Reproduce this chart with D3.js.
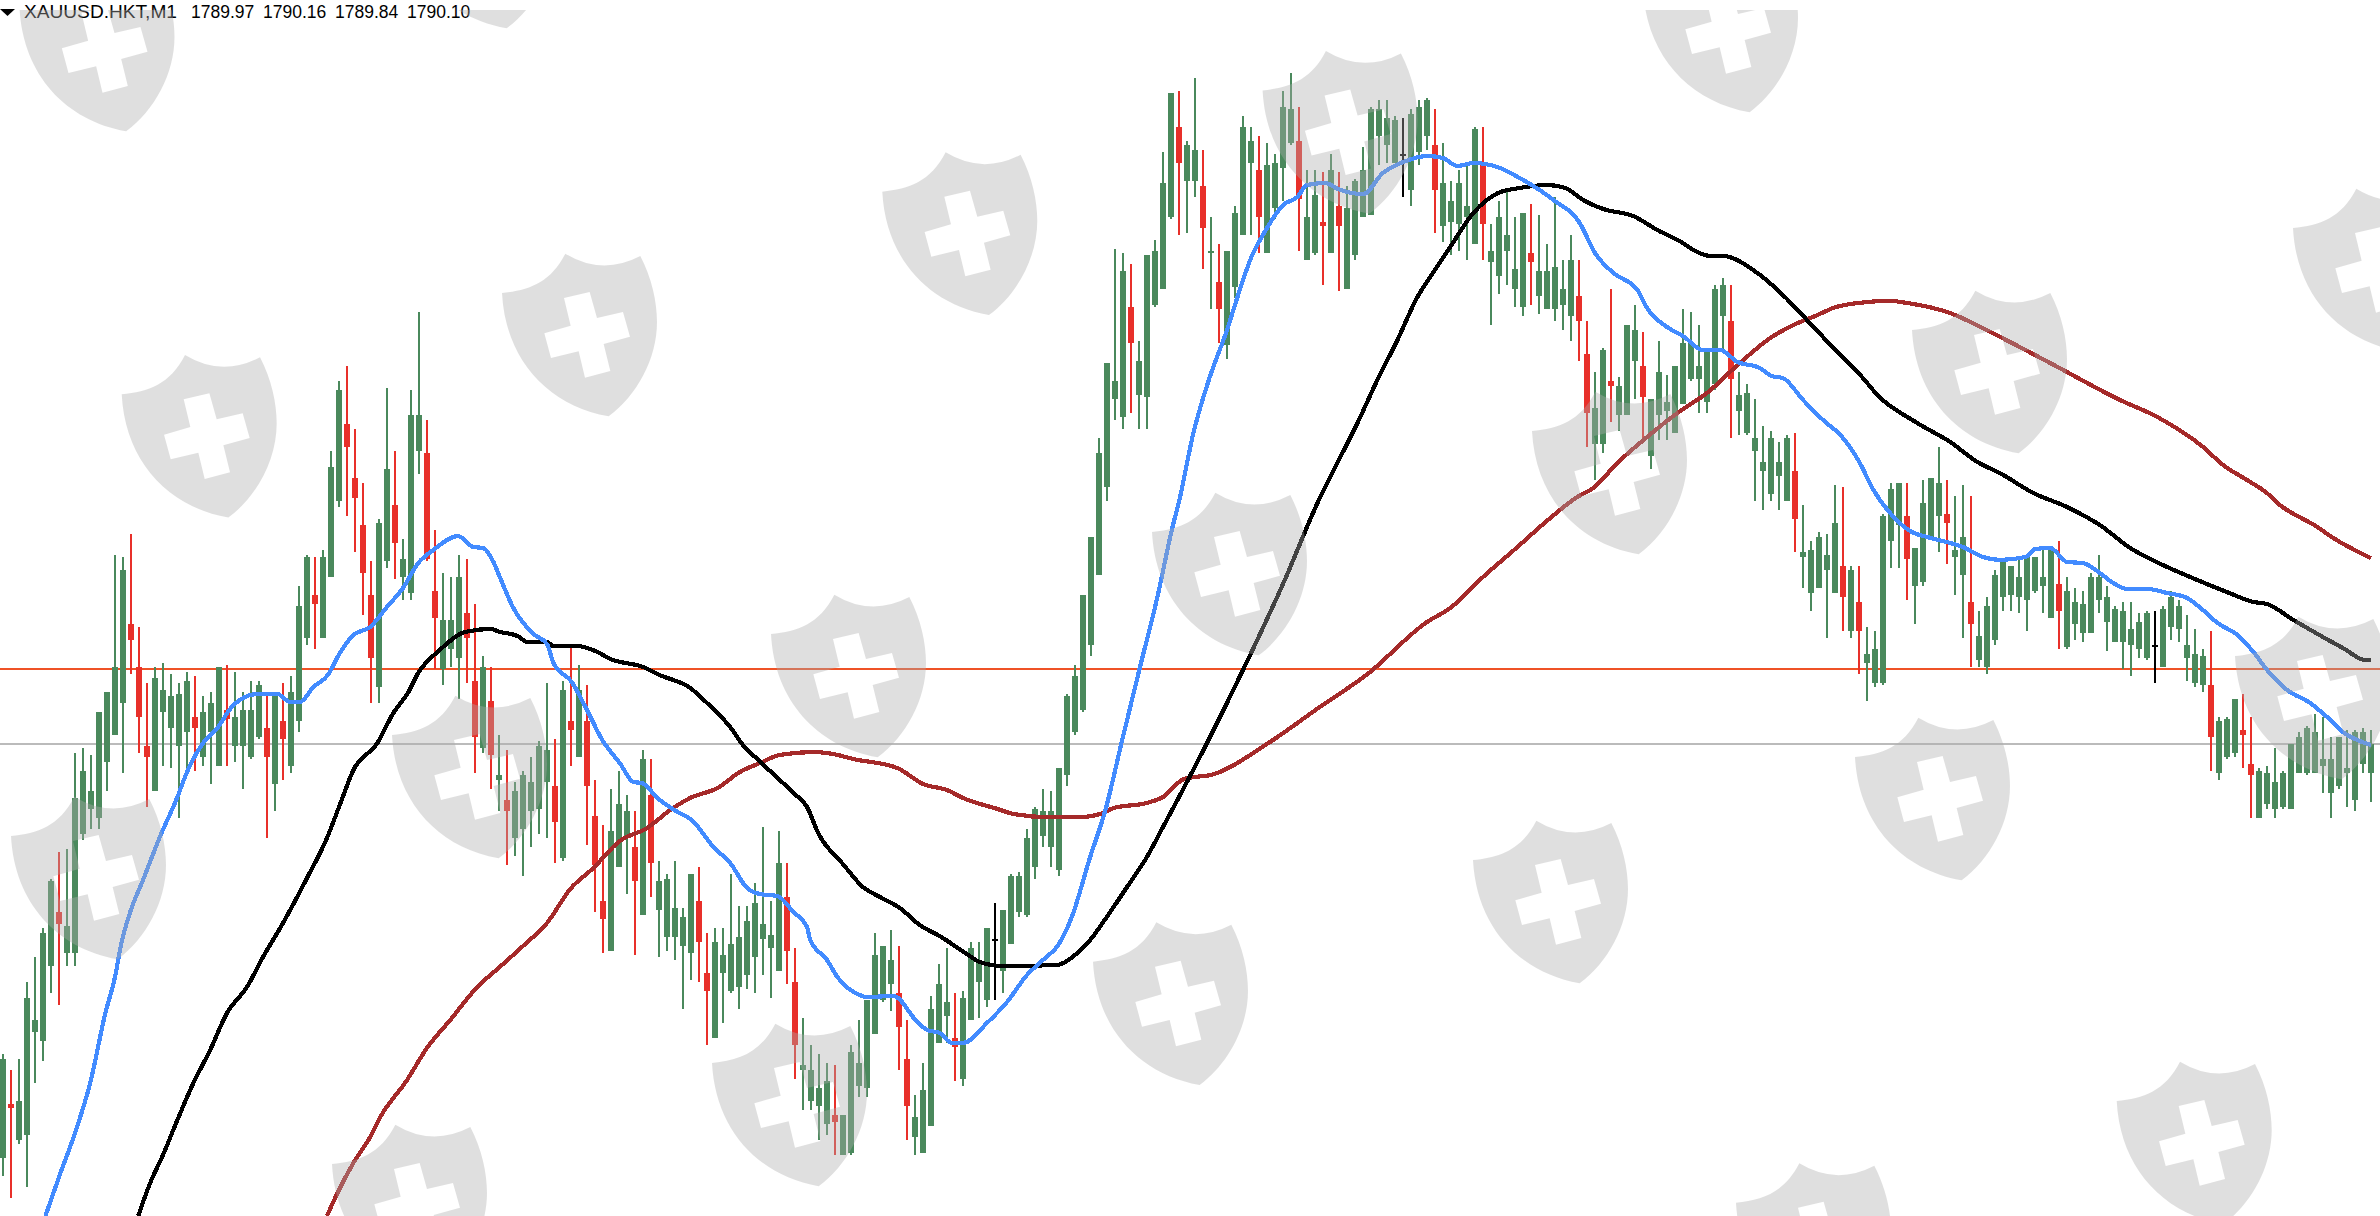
<!DOCTYPE html>
<html>
<head>
<meta charset="utf-8">
<title>XAUUSD.HKT,M1</title>
<script src="https://cdn.jsdelivr.net/npm/d3@7"></script>
<style>
    html, body { margin: 0; padding: 0; background: #fff; overflow: hidden; }
    svg { display: block; }
    .header { font-family: "Liberation Sans", sans-serif; font-size: 17.5px; fill: #000; }
</style>
</head>
<body>
<div id="chart"></div>
<script>
//All prices are in cents above this level
const basePrice = 1788;

const symbolLabel = "XAUUSD.HKT,M1";
const ohlcLabels = ["1789.97", "1790.16", "1789.84", "1790.10"];

const opens = [
    26,50,34,36,82,78,111,135,117,117, 170,181,177,202,214,228,263,244,209,189,
    224,217,209,215,222,204,215,200,225,209, 209,204,213,217,192,220,200,220,257,276,
    257,284,318,352,328,307,276,235,291,316, 284,277,340,339,278,243,252,248,268,238,
    208,229,194,185,168,172,180,181,193,191, 159,220,204,220,178,140,118,155,168,164,
    134,187,136,124,124,120,117,140,108,79, 108,100,102,107,115,123,119,109,142,104,
    65,51,49,41,45,27,28,58,57,81, 96,103,99,70,35,28,40,77,89,79,
    61,87,104,96,123,109,121,135,134,155, 169,164,154,196,215,225,254,285,324,363,
    355,404,365,364,405,412,444,484,460,460, 458,428,415,387,413,436,468,465,428,448,
    466,477,478,425,428,442,428,449,412,427, 444,445,480,476,468,472,456,473,480,476,
    440,442,441,444,432,467,424,418,429,412, 404,428,409,403,403,405,400,409,383,343,
    343,371,356,356,380,378,338,356,358,348, 361,372,372,362,370,400,398,358,348,340,
    331,321,329,318,331,293,277,279,287,277, 289,260,273,246,237,237,300,307,311,280,
    282,302,311,312,293,285,273,247,244,256, 275,276,275,274,278,280,266,281,253,263,
    259,259,274,264,255,255,254,252,248,254, 244,262,261,248,237,236,236,197,204,206,
    216,201,177,183,181,182,181,197,197,197, 200,188,191,197,185,201,197
];
const closes = [
    70,48,51,97,87,126,149,130,129,186, 198,189,224,233,244,287,256,222,204,239,
    234,231,232,238,217,224,228,244,221,222, 225,225,236,204,233,212,233,271,293,272,
    293,333,367,342,319,286,248,308,332,299, 292,356,356,292,266,265,265,284,257,213,
    244,205,196,180,189,196,193,209,207,175, 234,216,234,191,156,132,171,183,180,149,
    203,157,149,150,137,133,152,122,100,122, 116,121,124,131,139,130,125,157,118,76,
    67,65,57,60,42,45,73,68,96,116, 120,114,84,49,44,56,92,103,95,75,
    97,119,113,128,123,136,151,151,168,181, 180,180,199,231,240,276,302,339,379,371,
    420,388,380,427,429,459,499,468,476,474, 439,429,403,429,446,484,478,444,467,468,
    493,492,452,444,454,440,465,440,448,460, 465,492,492,488,487,472,490,493,496,456,
    459,451,459,449,483,441,429,444,436,421, 446,424,420,420,422,412,425,398,357,359,
    385,369,369,396,394,364,363,375,362,378, 388,388,378,384,412,414,372,365,366,346,
    335,346,335,346,310,295,296,302,294,308, 275,287,260,250,252,311,323,326,292,297,
    317,328,326,308,296,302,263,258,271,285, 292,289,284,293,293,284,296,269,278,273,
    272,284,284,275,270,269,261,264,268,254, 270,275,271,254,250,249,213,220,221,230,
    214,196,198,197,193,197,210,213,217,215, 203,203,213,199,215,215,210
];
const highs = [
    72,65,70,104,115,128,150,162,163,206, 208,205,224,233,294,293,303,262,237,244,
    246,241,237,242,240,231,233,244,245,242, 233,238,238,231,233,237,240,280,294,293,
    296,340,371,378,350,326,291,310,368,340, 301,367,402,354,305,286,284,294,292,272,
    249,244,214,207,193,198,204,211,237,212, 238,253,245,236,194,174,190,198,187,180,
    207,203,158,152,158,137,152,155,126,128, 128,152,138,138,148,173,140,171,157,119,
    88,76,72,68,67,45,76,87,96,126, 120,127,120,87,54,68,98,112,119,99,
    100,122,122,128,139,136,152,153,172,182, 190,189,199,232,245,276,302,346,379,430,
    428,423,389,427,434,473,499,500,478,506, 474,444,432,429,449,489,484,480,477,472,
    500,508,493,465,465,464,472,464,458,461, 475,493,496,496,489,488,492,496,497,492,
    477,460,465,467,484,484,441,451,456,444, 446,450,445,432,453,425,436,425,398,375,
    386,412,373,396,405,393,363,389,374,378, 403,402,396,384,414,417,414,375,370,363,
    351,349,344,347,348,316,300,304,303,325, 324,289,289,262,260,312,326,326,326,297,
    327,328,342,327,320,325,320,269,275,287, 292,289,292,293,293,297,297,300,284,279,
    278,286,294,280,271,273,273,268,269,269, 271,278,274,267,261,252,260,222,222,230,
    232,222,199,200,208,198,210,215,218,223, 222,213,213,216,216,217,216
];
const lows = [
    18,8,32,13,59,69,99,94,111,111, 167,172,172,189,214,197,241,206,182,189,
    200,199,177,196,198,200,192,200,200,202, 190,203,212,168,180,194,197,215,254,252,
    257,284,315,311,295,267,228,228,288,283, 274,274,330,291,243,236,244,230,237,197,
    206,190,180,156,160,151,164,170,168,157, 158,200,204,165,135,117,118,155,143,116,
    134,142,115,118,114,92,105,104,76,79, 86,99,92,101,99,107,97,109,103,61,
    47,47,34,36,27,27,27,53,53,81, 95,91,65,34,27,28,40,77,77,60,
    58,87,88,93,96,99,121,133,133,150, 164,155,151,191,214,224,249,285,318,354,
    350,357,350,350,404,412,443,436,437,453, 421,403,388,381,408,436,436,428,428,443,
    451,476,429,425,427,414,428,411,412,425, 444,445,467,468,468,453,449,467,474,437,
    433,427,429,425,432,425,396,410,414,404, 400,405,401,403,398,394,389,380,342,327,
    339,353,349,356,363,344,332,345,345,348, 361,371,357,357,367,384,346,347,347,318,
    314,318,314,318,295,279,269,279,257,277, 260,257,241,229,235,236,288,288,274,263,
    280,302,295,290,276,257,244,244,241,254, 269,269,268,260,277,268,266,252,252,256,
    255,259,268,251,255,243,240,248,247,237, 244,256,255,238,235,233,198,194,203,204,
    199,177,177,181,177,181,181,197,196,197, 188,177,190,182,180,197,184
];

//Moving averages at these bar positions
const blueBars = [5.3,7,9,10.9,12.8,14,14.8,15.9,17.5,19.6,21.8,23,25,26.8,28.8,31.8,34.3,35.9,37.1,38.8,40.6,42.1,43.8,45.9,48,50,51.9,53.8,56.9,58.8,60,61.3,62.1,63.8,66.3,68,68.8,71.1,73,74.9,77.1,78.8,79.9,81.8,84.3,86.1,88.8,90.9,93,94.6,96.8,98.8,100.5,100.9,103,104.3,107.1,108,111.3,114.3,115.5,117.1,118.6,120,123,125.5,128,130,131.9,133.6,135.9,137.8,139.9,142.1,144.3,146.1,147.1,148.8,150.6,153,154.6,155.9,158,160,161.8,163,165.3,166.9,170,172.5,175,178.1,180,181.8,183.8,186.8,189.6,193.8,197.1,199,201.3,204.3,205.5,208,210,212.5,214.6,216.8,219.6,221.1,222.5,225,227.5,229.9,232.1,233.8,235.9,238.6,240.5,243.4,245,247.5,249.6,252.8,254,255.9,258,260,262.1,263.8,265.5,268,270.5,273,275,276.8,279.3,281.3,283,285.5,288.4,290.5,292.5,296];
const blueValues = [0,17.3,36.9,59.1,90.2,106.2,121.3,135.1,149.3,168.4,186.2,197.3,210.2,216.9,227.1,232,232,228.4,228.4,235.1,240.4,250.2,258.2,261.8,270.7,279.1,290.2,296,302.2,297.3,296.9,290.7,284,270.2,258.7,254.2,245.8,237.3,224.9,211.6,201.3,192.9,192.4,185.8,179.6,176,164,156.9,145.8,143.1,142.2,135.1,128.4,122.7,113.8,106.2,98.2,97.3,97.8,86.2,82.7,81.3,76.9,76.9,85.8,95.1,107.1,113.8,120.4,132.9,159.6,180.4,211.6,243.6,275.1,304.9,319.1,348,370.2,393.8,411.6,424.9,439.1,449.3,452.9,458.2,459.1,456.4,454.2,463.6,468.4,471.1,470.2,466.7,468,466.2,461.3,451.6,441.3,428,419.1,411.6,403.6,395.1,391.1,384.9,384.9,379.6,376.9,373.3,372.4,362.7,353.8,346.2,334.7,322.7,312.4,304,301.8,299.1,297.3,292.9,291.6,292.9,296.4,296.9,290.7,290.2,285.8,281.3,278.7,278.7,276.9,274.7,269.3,263.6,258.2,250.7,242.7,233.8,228,221.8,215.1,209.3];

const blackBars = [16.9,18.4,20,21.8,23.8,25.9,28,30.5,32.5,35,38,40.5,42.1,43.8,46.8,48.8,50.6,51.9,54.6,57.8,60.9,62.1,64.3,65.6,68,68.8,71.8,74.3,75.9,80,82.1,85.9,88,90.9,92.5,94.4,98.8,100.5,101.9,105,107.5,109.6,112.1,114.6,117.1,120.5,122.1,125,131.8,134,135.9,137.8,140.5,143,145,147,150.5,155.3,160,164.6,166.8,169.3,171.8,174.3,176.8,178.4,180.9,183.8,186.9,189.6,193.1,195.3,197.5,200,203.8,206.8,210,211.3,213.4,214.9,219.3,222.5,225.5,228.8,232.5,234.3,239.3,243.4,246.8,249.6,253.8,258,262.1,265.9,270,273.4,278,281.3,283,286.3,290,292.5,295.3,296];
const blackValues = [0,14.7,27.1,42.7,59.1,73.8,90.2,101.8,115.1,130.2,150.2,168,182.7,198.2,210.2,223.6,232.4,241.3,251.6,259.6,260.9,259.6,257.8,255.1,255.1,253.3,253.3,250.7,247.6,244,240.4,234.7,228,217.3,209.3,202.7,188,181.8,170.2,156.4,146.2,141.8,136.9,129.3,124.4,116.4,112.9,111.1,111.6,116,122.7,132,146.2,159.6,172.9,186.2,210.2,244.9,280.9,319.1,334.7,352.4,371.6,389.3,408.4,417.3,430.7,445.8,454.7,456.9,458.2,456.9,451.6,447.6,444.4,438.2,432.4,429.3,426.7,426.7,419.1,409.3,398.2,385.8,372.4,364.9,352.4,344,335.1,330.2,321.3,315.1,307.1,296.9,289.3,284,277.3,272.9,272,264.9,257.3,252.4,247.1,247.1];

const brownBars = [40.5,41.8,43.8,45.9,47.1,50.5,53,55.9,59.3,62.1,65,68,70.9,73.8,77.1,80.5,83.4,85.9,89.3,92.1,94.6,97.1,101.3,103.8,106.3,111.8,115,118,120,124.3,126.3,130.5,134.6,137.5,138.8,143,145,147.6,151.4,158,164.8,170.4,178,180.9,185,189.3,193.4,196.8,198.8,201.8,205.5,209.3,213,217.1,220.9,223.8,226.8,228.8,231.9,235.9,238,243.4,248.4,255.9,264.6,269.3,275,277.5,280.5,283,284.3,289.3,291.3,296];
const brownValues = [0,10.2,23.6,35.1,43.6,60.4,74.7,87.1,101.8,110.7,120,130.2,145.3,154.7,166.7,172.4,180.4,185.8,190.2,197.3,201.3,204.9,206.2,205.3,203.1,199.1,192,189.3,185.8,180.9,178.7,177.3,177.3,179.1,181.3,183.6,186.2,194.2,196.4,209.8,226.7,240.4,264,270.2,284,297.3,310.2,319.6,323.6,334.7,346.2,356.9,365.8,379.1,390.2,396,400.4,403.6,405.8,406.7,405.8,401.3,392.9,379.1,362.7,355.1,341.8,333.8,327.1,321.3,316.9,306.2,301.3,292.4];

//Horizontal levels
const alertLevel = 243;
const bidLevel = 210;

const width = 2380, height = 1216;

//Watermark: top left corner of every shield
const shieldCorners = [
    [19.5,8],[400,-95],
    [121.7,394.3],[502,293],[882.3,191.7],[1262.6,90.4],[1643,-11],
    [11,836],[392,735],[771,634],[1152,532],[1532,431],[1912,330],[2293,228],
    [332,1164],[712,1063],[1093,961.7],[1473,860],[1855,757],[2235,656],
    [1736,1202.7],[2116.7,1101]
];
const shieldPath = "M0,0 C80,-8 145,-30 190,-118 Q300,-51 415,-111 C450,-43 465,27 465,87 C465,197 405,307 320,370 C135,337 10,197 0,0 Z" +
    " M186,15 L263,-3 L285,75 L363,57 L384,131 L305,153 L325,234 L249,254 L230,175 L147,195 L127,121 L206,98 Z";

const svg = d3.select("#chart").append("svg")
    .attr("width", width)
    .attr("height", height);

svg.append("rect").attr("width", width).attr("height", height).attr("fill", "#fff");

//Bars are 8 pixels apart
const xScale = d3.scaleLinear().domain([0, opens.length - 1]).range([3, 2371]);
//One cent is 2.25 pixels
const yScale = d3.scaleLinear().domain([0, height / 2.25]).range([height, 0]);

function candleColor(i) {
    if (closes[i] > opens[i]) return "#4a895c";
    if (closes[i] < opens[i]) return "#e8302a";
    return "#000";
}

//Price levels sit behind the candles
const levels = svg.append("g").attr("shape-rendering", "crispEdges");
levels.append("line")
    .attr("x1", 0).attr("x2", width)
    .attr("y1", yScale(alertLevel)).attr("y2", yScale(alertLevel))
    .attr("stroke", "#ef5226").attr("stroke-width", 2);
levels.append("line")
    .attr("x1", 0).attr("x2", width)
    .attr("y1", yScale(bidLevel)).attr("y2", yScale(bidLevel))
    .attr("stroke", "#bbb").attr("stroke-width", 2);

//Candles
const candles = svg.append("g").attr("shape-rendering", "crispEdges")
    .selectAll("g")
    .data(d3.range(opens.length))
    .enter()
    .append("g");

candles.append("rect")
    .attr("x", i => xScale(i) - 1)
    .attr("width", 2)
    .attr("y", i => yScale(highs[i]))
    .attr("height", i => yScale(lows[i]) - yScale(highs[i]))
    .attr("fill", candleColor);

candles.append("rect")
    .attr("x", i => xScale(i) - 3)
    .attr("width", 6)
    .attr("y", i => yScale(Math.max(opens[i], closes[i])))
    .attr("height", i => Math.max(2, Math.abs(yScale(opens[i]) - yScale(closes[i]))))
    .attr("fill", candleColor);

//Moving averages, slowest first
const maLine = d3.line()
    .curve(d3.curveMonotoneX)
    .x(d => xScale(d[0]))
    .y(d => yScale(d[1]));

const maSeries = [
    { bars: brownBars, values: brownValues, color: "#a52a2a" },
    { bars: blackBars, values: blackValues, color: "#000" },
    { bars: blueBars, values: blueValues, color: "#428bff" }
];

svg.append("g").selectAll("path")
    .data(maSeries)
    .enter()
    .append("path")
    .attr("d", s => maLine(d3.zip(s.bars, s.values)))
    .attr("fill", "none")
    .attr("stroke", s => s.color)
    .attr("stroke-width", 4.2)
    .attr("stroke-linejoin", "round")
    .attr("shape-rendering", "crispEdges");

//Header text
const header = svg.append("g");
header.append("path")
    .attr("d", "M0,9 L15,9 L7.5,16 Z")
    .attr("fill", "#000");
header.append("text").attr("class", "header")
    .attr("x", 24).attr("y", 18)
    .attr("textLength", 153).attr("lengthAdjust", "spacingAndGlyphs")
    .text(symbolLabel);
header.selectAll("text.ohlc")
    .data(ohlcLabels)
    .enter()
    .append("text")
    .attr("class", "header ohlc")
    .attr("x", (d, i) => 191 + i * 72)
    .attr("y", 18)
    .text(d => d);

//Watermark goes over everything, but stops below the very top of the window
svg.append("clipPath").attr("id", "belowTop")
    .append("rect").attr("x", 0).attr("y", 10).attr("width", width).attr("height", height);

svg.append("g")
    .attr("clip-path", "url(#belowTop)")
    .selectAll("path")
    .data(shieldCorners)
    .enter()
    .append("path")
    .attr("d", shieldPath)
    .attr("transform", d => `translate(${d[0]},${d[1]}) scale(0.3333)`)
    .attr("fill", "#adadad")
    .attr("fill-opacity", 0.39)
    .attr("fill-rule", "evenodd");
</script>
</body>
</html>
